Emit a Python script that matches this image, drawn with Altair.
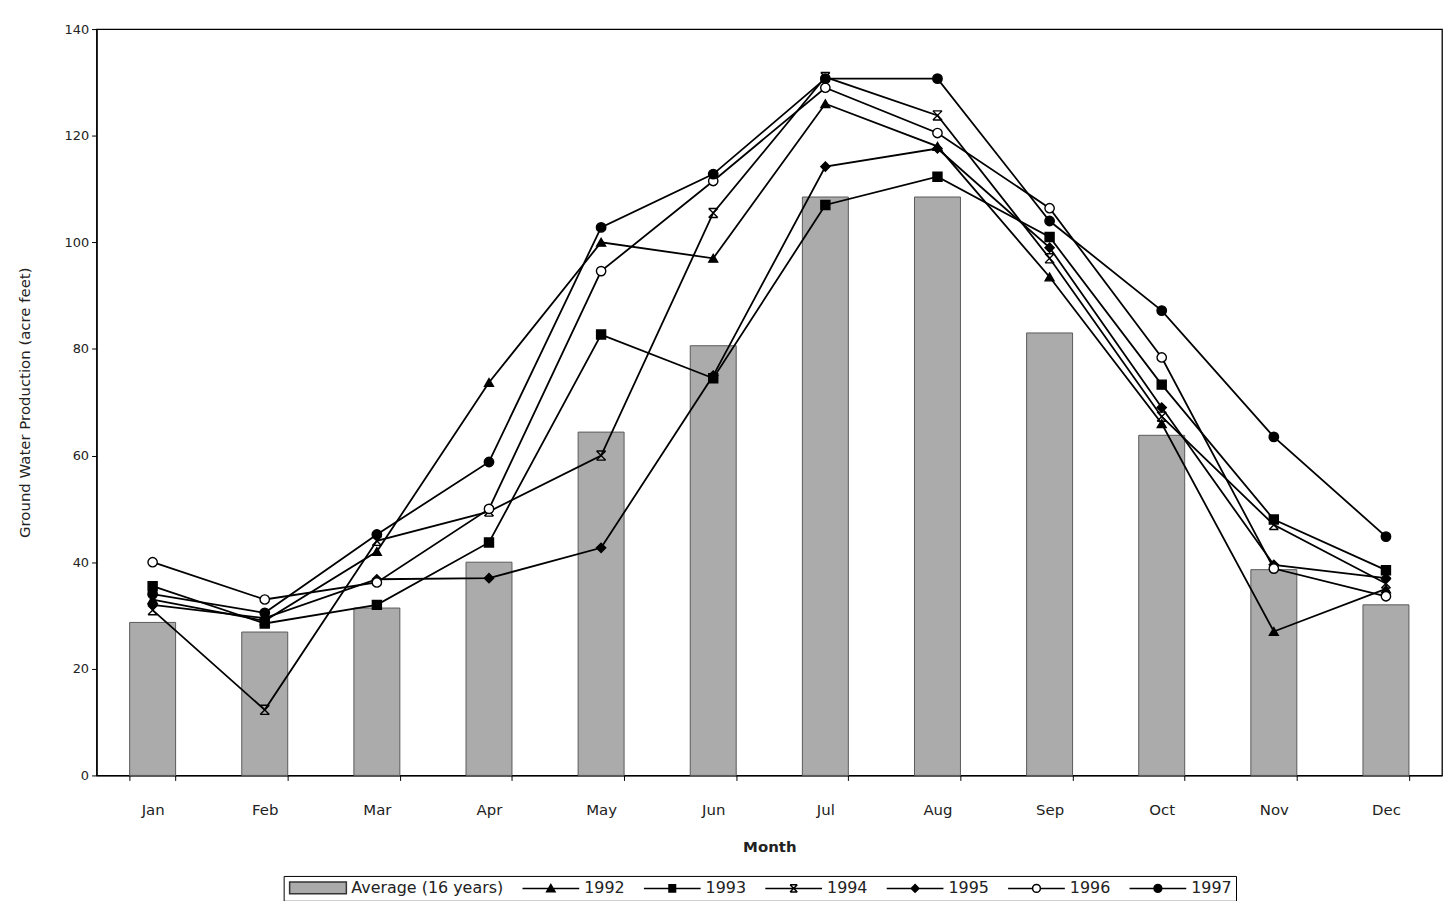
import altair as alt
import pandas as pd

# ---------------- data ----------------
months = ["Jan", "Feb", "Mar", "Apr", "May", "Jun",
          "Jul", "Aug", "Sep", "Oct", "Nov", "Dec"]

average_16_years = [28.7, 26.9, 31.4, 40.0, 64.4, 80.6, 108.5, 108.5, 83.0, 63.8, 38.6, 32.0]

y1992 = [33.0, 29.0, 42.0, 73.7, 100.0, 97.0, 126.0, 118.0, 93.5, 66.0, 27.0, 35.0]
y1993 = [35.5, 28.5, 32.0, 43.7, 82.7, 74.5, 107.0, 112.3, 101.0, 73.3, 48.0, 38.5]
y1994 = [31.0, 12.3, 44.0, 49.5, 60.0, 105.5, 131.0, 123.8, 97.0, 67.3, 47.0, 36.0]
y1995 = [32.0, 29.5, 36.8, 37.0, 42.7, 75.0, 114.2, 117.6, 99.0, 69.0, 39.5, 37.0]
y1996 = [40.0, 33.0, 36.2, 50.0, 94.6, 111.5, 129.0, 120.5, 106.4, 78.4, 38.8, 33.6]
y1997 = [34.0, 30.5, 45.2, 58.8, 102.8, 112.8, 130.7, 130.7, 104.0, 87.2, 63.5, 44.8]

series_names = ["Average (16 years)", "1992", "1993", "1994", "1995", "1996", "1997"]
year_names = series_names[1:]
year_values = [y1992, y1993, y1994, y1995, y1996, y1997]

bars_df = pd.DataFrame({"month": months, "value": average_16_years})
lines_df = pd.DataFrame(
    [{"month": m, "series": name, "value": v}
     for name, vals in zip(year_names, year_values)
     for m, v in zip(months, vals)]
)

# ---------------- styling ----------------
FONT = "DejaVu Sans"
BAR_FILL = "#ababab"
BAR_STROKE = "#5a5a5a"

x_scale = alt.Scale(paddingInner=0.59, paddingOuter=0.295)
x_enc = alt.X(
    "month:N", sort=months, scale=x_scale,
    axis=alt.Axis(title="Month", labelAngle=0, tickBand="extent",
                  labelFontSize=15, labelPadding=22, tickSize=5,
                  titleFontSize=15, titleFontWeight="bold", titlePadding=22),
)
y_enc = alt.Y(
    "value:Q", scale=alt.Scale(domain=[0, 140], nice=False),
    axis=alt.Axis(title="Ground Water Production (acre feet)",
                  values=list(range(0, 141, 20)), labelFontSize=13,
                  labelPadding=3, tickSize=5, titleFontSize=15,
                  titleFontWeight="normal", titlePadding=32),
)

# plot markers (no legend)
marker_shapes = [
    "triangle-up",
    "square",
    "M-1,-1L1,1M-1,1L1,-1M-1,-1H1M-1,1H1",
    "diamond",
    "circle",
    "circle",
]
marker_fills = ["black", "black", "black", "black", "white", "black"]
marker_sizes = [80, 90, 90, 65, 100, 105]

# legend symbols: short line with the marker in the middle
legend_shapes = [
    "M-1,-1H8.5V1H-1Z",
    "M-1,0H8.5M3.75,-0.65L4.45,0.55H3.05Z",
    "M-1,0H8.5M3.2,-0.6H4.3V0.6H3.2Z",
    "M-1,0H8.5M3.15,-0.6L4.35,0.6M3.15,0.6L4.35,-0.6M3.15,-0.6H4.35M3.15,0.6H4.35",
    "M-1,0H8.5M3.75,-0.65L4.4,0L3.75,0.65L3.1,0Z",
    "M-1,0H3.1M4.4,0H8.5M3.1,0A0.65,0.65 0 1,0 4.4,0A0.65,0.65 0 1,0 3.1,0Z",
    "M-1,0H8.5M3.1,0A0.65,0.65 0 1,0 4.4,0A0.65,0.65 0 1,0 3.1,0Z",
]
legend_fills = [BAR_FILL] + marker_fills
legend_strokes = ["#333333"] + ["black"] * 6

bars = alt.Chart(bars_df).mark_bar(
    fill=BAR_FILL, stroke=BAR_STROKE, strokeWidth=1
).encode(x=x_enc, y=y_enc)

lines = alt.Chart(lines_df).mark_line(
    color="black", strokeWidth=1.8
).encode(x=x_enc, y=y_enc, detail="series:N")

points = alt.Chart(lines_df).mark_point(
    filled=True, stroke="black", strokeWidth=1.4, opacity=1
).encode(
    x=x_enc, y=y_enc,
    shape=alt.Shape("series:N", scale=alt.Scale(domain=year_names, range=marker_shapes), legend=None),
    fill=alt.Fill("series:N", scale=alt.Scale(domain=year_names, range=marker_fills), legend=None),
    size=alt.Size("series:N", scale=alt.Scale(domain=year_names, range=marker_sizes), legend=None),
)

legend_opts = dict(
    title=None, orient="none", legendX=188, legendY=851,
    direction="horizontal", columns=7,
    symbolSize=144, symbolStrokeWidth=1.5, symbolStrokeColor="black",
    symbolOpacity=1, labelOffset=48, columnPadding=16,
    labelFont=FONT, labelFontSize=16, labelColor="#222",
    padding=4, strokeColor="black", fillColor="white",
)

legend_layer = alt.Chart(lines_df).transform_filter(
    "datum.value < -1000"
).mark_point(
    filled=True, strokeWidth=1.5, opacity=1
).encode(
    x=x_enc, y=y_enc,
    shape=alt.Shape(
        "series:N",
        scale=alt.Scale(domain=series_names, range=legend_shapes),
        legend=alt.Legend(**legend_opts),
    ),
    fill=alt.Fill(
        "series:N",
        scale=alt.Scale(domain=series_names, range=legend_fills),
        legend=alt.Legend(**legend_opts),
    ),
    stroke=alt.Stroke(
        "series:N",
        scale=alt.Scale(domain=series_names, range=legend_strokes),
        legend=alt.Legend(**legend_opts),
    ),
)

chart = alt.layer(bars, lines, points, legend_layer).resolve_scale(
    shape="independent", fill="independent", size="independent",
    stroke="independent",
).properties(
    width=1352, height=750,
    padding={"left": 89, "top": 19, "right": 2, "bottom": 124},
    autosize=alt.AutoSizeParams(type="none"),
).configure_view(
    stroke="black", strokeWidth=1.3
).configure_axis(
    labelFont=FONT, titleFont=FONT, labelColor="#222", titleColor="#222",
    domainColor="black", tickColor="black", domainWidth=1.3, grid=False,
)

chart.save("out.html", embed_options={"renderer": "svg", "actions": False})
